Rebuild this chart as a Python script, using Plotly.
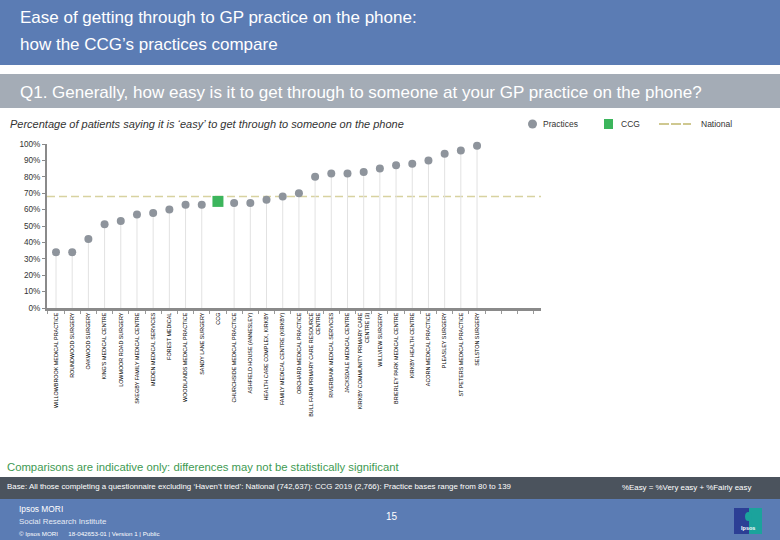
import plotly.graph_objects as go

# ---------------- data ----------------
categories = [
    "WILLOWBROOK MEDICAL PRACTICE", "ROUNDWOOD SURGERY", "OAKWOOD SURGERY",
    "KING'S MEDICAL CENTRE", "LOWMOOR ROAD SURGERY", "SKEGBY FAMILY MEDICAL CENTRE",
    "MEDEN MEDICAL SERVICES", "FOREST MEDICAL", "WOODLANDS MEDICAL PRACTICE",
    "SANDY LANE SURGERY", "CCG", "CHURCHSIDE MEDICAL PRACTICE",
    "ASHFIELD HOUSE (ANNESLEY)", "HEALTH CARE COMPLEX, KIRKBY",
    "FAMILY MEDICAL CENTRE (KIRKBY)", "ORCHARD MEDICAL PRACTICE",
    "BULL FARM PRIMARY CARE RESOURCE<br>CENTRE", "RIVERBANK MEDICAL SERVICES",
    "JACKSDALE MEDICAL CENTRE", "KIRKBY COMMUNITY PRIMARY CARE<br>CENTRE (3)",
    "WILLVIEW SURGERY", "BRIERLEY PARK MEDICAL CENTRE", "KIRKBY HEALTH CENTRE",
    "ACORN MEDICAL PRACTICE", "PLEASLEY SURGERY", "ST PETERS MEDICAL PRACTICE",
    "SELSTON SURGERY",
]
values = [34, 34, 42, 51, 53, 57, 58, 60, 63, 63, 65, 64, 64, 66, 68, 70,
          80, 82, 82, 83, 85, 87, 88, 90, 94, 96, 99]
ccg_label = "CCG"
national_value = 68
y_ticks = [0, 10, 20, 30, 40, 50, 60, 70, 80, 90, 100]

# ---------------- layout geometry ----------------
W, H = 780, 540
L, R, T, B = 47, 541, 144, 308
X_RANGE = [-0.556, 29.95]

def px(x):
    return (x - L) / (R - L)

def py(y):
    return (B - y) / (B - T)

idx = list(range(len(categories)))
prac_x = [i for i, c in zip(idx, categories) if c != ccg_label]
prac_y = [v for v, c in zip(values, categories) if c != ccg_label]
ccg_x = [i for i, c in zip(idx, categories) if c == ccg_label]
ccg_y = [v for v, c in zip(values, categories) if c == ccg_label]

BLUE = "#5b7cb4"
GREY_BAND = "#a4acb6"
DARK_BAND = "#4b535d"
PT_GREY = "#8e949c"
GREEN = "#3cb55c"
NAT = "#d8d2a0"
FONT = "Liberation Sans, Arial, sans-serif"

fig = go.Figure()

fig.add_trace(go.Scatter(
    x=prac_x, y=prac_y, mode="markers", name="Practices",
    marker=dict(symbol="circle", size=8, color=PT_GREY),
    cliponaxis=False, hoverinfo="skip", showlegend=False))
fig.add_trace(go.Scatter(
    x=ccg_x, y=ccg_y, mode="markers", name="CCG",
    marker=dict(symbol="square", size=11, color=GREEN),
    cliponaxis=False, hoverinfo="skip", showlegend=False))

shapes = []
# drop lines (below traces)
for xv, yv in zip(prac_x, prac_y):
    shapes.append(dict(type="line", xref="x", yref="y", x0=xv, x1=xv, y0=0, y1=yv,
                       line=dict(color="#e2e2e2", width=1), layer="below"))
# white band around national line, then dashed line
shapes.append(dict(type="line", xref="x domain", yref="y", x0=0, x1=1,
                   y0=national_value, y1=national_value,
                   line=dict(color="white", width=6), layer="below"))
shapes.append(dict(type="line", xref="x domain", yref="y", x0=0, x1=1,
                   y0=national_value, y1=national_value,
                   line=dict(color=NAT, width=1.5, dash="8px,4px"), layer="below"))

# header bands
shapes.append(dict(type="rect", xref="paper", yref="paper", x0=px(0), x1=px(W),
                   y0=py(65), y1=py(0), fillcolor=BLUE, line=dict(width=0), layer="below"))
shapes.append(dict(type="rect", xref="paper", yref="paper", x0=px(0), x1=px(W),
                   y0=py(108), y1=py(74), fillcolor=GREY_BAND, line=dict(width=0), layer="below"))
# footer bands
shapes.append(dict(type="rect", xref="paper", yref="paper", x0=px(0), x1=px(W),
                   y0=py(499), y1=py(477), fillcolor=DARK_BAND, line=dict(width=0), layer="below"))
shapes.append(dict(type="rect", xref="paper", yref="paper", x0=px(0), x1=px(W),
                   y0=py(H), y1=py(499), fillcolor=BLUE, line=dict(width=0), layer="below"))
# logo
shapes.append(dict(type="rect", xref="paper", yref="paper", x0=px(734), x1=px(762),
                   y0=py(534), y1=py(508), fillcolor="#2c3f95", line=dict(width=0)))
shapes.append(dict(type="rect", xref="paper", yref="paper", x0=px(749), x1=px(762),
                   y0=py(534), y1=py(508), fillcolor="#1ba39c", line=dict(width=0)))
shapes.append(dict(type="circle", xref="paper", yref="paper", x0=px(745), x1=px(752),
                   y0=py(521), y1=py(512), fillcolor="#1ba39c", line=dict(width=0)))

# legend glyphs
shapes.append(dict(type="circle", xref="paper", yref="paper", x0=px(528), x1=px(537),
                   y0=py(128.5), y1=py(119.5), fillcolor=PT_GREY, line=dict(width=0)))
shapes.append(dict(type="rect", xref="paper", yref="paper", x0=px(604), x1=px(613),
                   y0=py(129), y1=py(119), fillcolor=GREEN, line=dict(width=0)))
shapes.append(dict(type="line", xref="paper", yref="paper", x0=px(659), x1=px(691),
                   y0=py(124), y1=py(124), line=dict(color="#cfc890", width=2, dash="10px,2px")))

ann = []
def text(x, y, s, size, color="white", family=FONT, xanchor="left", **kw):
    ann.append(dict(x=px(x), y=py(y), xref="paper", yref="paper", text=s, showarrow=False,
                    xanchor=xanchor, yanchor="middle", align="left",
                    font=dict(size=size, color=color, family=family), **kw))

text(18, 17, "Ease of getting through to GP practice on the phone:", 17)
text(18, 45, "how the CCG’s practices compare", 17)
text(18, 92, "Q1. Generally, how easy is it to get through to someone at your GP practice on the phone?", 17)
text(8, 124, "<i>Percentage of patients saying it is ‘easy’ to get through to someone on the phone</i>", 11, color="#333333")
text(541, 124, "Practices", 8.5, color="#333333")
text(619, 124, "CCG", 8.5, color="#333333")
text(699, 124, "National", 8.5, color="#333333")
text(5, 467, "Comparisons are indicative only: differences may not be statistically significant", 11.3, color="#3e9a52")
text(5, 486, "Base: All those completing a questionnaire excluding ‘Haven’t tried’: National (742,637): CCG 2019 (2,766): Practice bases range from 80 to 139", 7.9)
text(620, 487, "%Easy = %Very easy + %Fairly easy", 7.9)
text(17, 509, "Ipsos MORI", 8.4)
text(17, 521, "Social Research Institute", 7.9, color="#e6ebf5")
text(17, 533, "© Ipsos MORI      18-042653-01 | Version 1 | Public", 6.2)
text(392, 516, "15", 10, xanchor="center")
text(748, 528, "<b>Ipsos</b>", 5.5, xanchor="center")

fig.update_layout(
    width=W, height=H,
    margin=dict(l=L, r=W - R, t=T, b=H - B, pad=0),
    paper_bgcolor="white", plot_bgcolor="white",
    showlegend=False,
    shapes=shapes, annotations=ann,
    xaxis=dict(
        range=X_RANGE, tickmode="array", tickvals=idx, ticktext=categories,
        tickangle=-90, tickfont=dict(size=5.4, color="#000000", family=FONT),
        ticks="", showgrid=False, zeroline=False,
        showline=True, linecolor="#8a8a8a", linewidth=2.5,
        minor=dict(tickmode="linear", tick0=-0.5, dtick=1, ticks="outside",
                   ticklen=3, tickcolor="#9a9a9a", tickwidth=1, showgrid=False),
        fixedrange=True,
    ),
    yaxis=dict(
        range=[0, 100], tickmode="array", tickvals=y_ticks,
        ticktext=[f"{v}%" for v in y_ticks],
        tickfont=dict(size=8.2, color="#333333", family=FONT),
        ticks="outside", ticklen=3, tickcolor="#8a8a8a", tickwidth=1,
        showgrid=False, zeroline=False,
        showline=True, linecolor="#8a8a8a", linewidth=2, fixedrange=True,
    ),
)

fig.write_html("out.html", config={"staticPlot": True},
               post_script="document.body.style.margin='0';document.body.style.overflow='hidden';")
